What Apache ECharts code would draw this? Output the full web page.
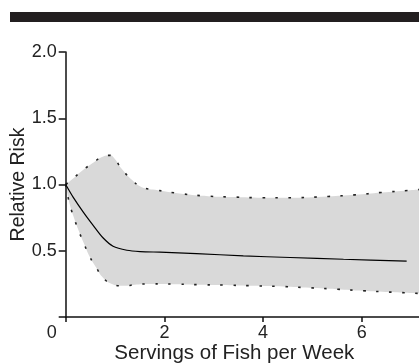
<!DOCTYPE html>
<html>
<head>
<meta charset="utf-8">
<script src="https://cdn.jsdelivr.net/npm/echarts@6/dist/echarts.min.js"></script>
<style>html,body{margin:0;padding:0;background:#fff;}#c{width:419px;height:364px;}</style>
</head>
<body>
<div id="c"></div>
<script>
// Data
var upperCI = [[0,1.0],[0.12,1.035],[0.32,1.10],[0.54,1.16],[0.76,1.212],[0.90,1.22],[1.0,1.19],[1.13,1.12],[1.34,1.035],[1.54,0.98],[1.81,0.96],[2.35,0.93],[2.89,0.912],[3.43,0.905],[3.97,0.90],[4.51,0.90],[5.32,0.91],[5.86,0.922],[6.40,0.94],[6.94,0.955],[7.16,0.962]];
var lowerCI = [[0,1.0],[0.07,0.867],[0.15,0.767],[0.26,0.654],[0.37,0.554],[0.49,0.453],[0.63,0.366],[0.73,0.308],[0.90,0.255],[1.17,0.235],[1.44,0.246],[1.71,0.25],[2.25,0.248],[2.79,0.243],[3.33,0.24],[3.87,0.235],[4.41,0.23],[4.95,0.22],[5.49,0.21],[6.03,0.198],[6.57,0.188],[7.16,0.178]];
var relRisk = [[0,1.0],[0.15,0.905],[0.36,0.79],[0.56,0.69],[0.76,0.596],[0.96,0.534],[1.24,0.504],[1.51,0.494],[1.91,0.489],[2.65,0.479],[3.6,0.461],[4.55,0.449],[5.63,0.436],[6.91,0.421]];
var xTicks = [0, 2, 4, 6];
var yTicks = [0.5, 1.0, 1.5, 2.0];
var xTitle = 'Servings of Fish per Week';
var yTitle = 'Relative Risk';

var chart = echarts.init(document.getElementById('c'), null, {renderer: 'canvas'});
var font = 'Liberation Sans, Arial, Helvetica, sans-serif';
var dotted = {color: '#222', width: 1.6, type: [2.5, 10.5]};
chart.setOption({
  animation: false,
  backgroundColor: '#fff',
  graphic: [{type: 'rect', shape: {x: 10, y: 12, width: 409, height: 10}, style: {fill: '#231f20'}}],
  grid: {left: 65.7, top: 52, right: 0, bottom: 47, containLabel: false, outerBoundsMode: 'none'},
  xAxis: {
    type: 'value', min: 0, max: 7.16, interval: 2, z: 5,
    axisLine: {lineStyle: {color: '#111', width: 1.5}},
    axisTick: {length: 5, lineStyle: {color: '#111', width: 1.5}},
    splitLine: {show: false},
    axisLabel: {
      showMaxLabel: false, margin: 7, color: '#222', fontFamily: font, fontSize: 18,
      formatter: function (v) { if (xTicks.indexOf(v) < 0) return ''; return v === 0 ? '{z|0}' : String(v); },
      rich: {z: {padding: [0, 28, 0, 0], fontSize: 18, fontFamily: font, color: '#222'}}
    },
    name: xTitle, nameLocation: 'middle', nameGap: 26, nameMoveOverlap: false,
    nameTextStyle: {color: '#222', fontFamily: font, fontSize: 20.5, padding: [0, 16, 0, 0]}
  },
  yAxis: {
    type: 'value', min: 0, max: 2, interval: 0.5, z: 5,
    axisLine: {show: true, lineStyle: {color: '#111', width: 1.5}},
    axisTick: {show: true, length: 7, lineStyle: {color: '#111', width: 1.5}},
    splitLine: {show: false},
    axisLabel: {
      margin: 9, color: '#222', fontFamily: font, fontSize: 18,
      formatter: function (v) { return yTicks.indexOf(v) < 0 ? '' : v.toFixed(1); }
    },
    name: yTitle, nameLocation: 'middle', nameGap: 37, nameMoveOverlap: false,
    nameTextStyle: {color: '#222', fontFamily: font, fontSize: 19.5}
  },
  series: [
    {type: 'line', data: upperCI, smooth: 0.45, symbol: 'none', z: 1,
     lineStyle: dotted, areaStyle: {color: '#d9d9d9', opacity: 1, origin: 'start'}},
    {type: 'line', data: lowerCI, smooth: 0.45, symbol: 'none', z: 2,
     lineStyle: dotted, areaStyle: {color: '#fff', opacity: 1, origin: 'start'}},
    {type: 'line', data: relRisk, smooth: 0.3, symbol: 'none', z: 3,
     lineStyle: {color: '#000', width: 1.2}}
  ]
});
</script>
</body>
</html>
